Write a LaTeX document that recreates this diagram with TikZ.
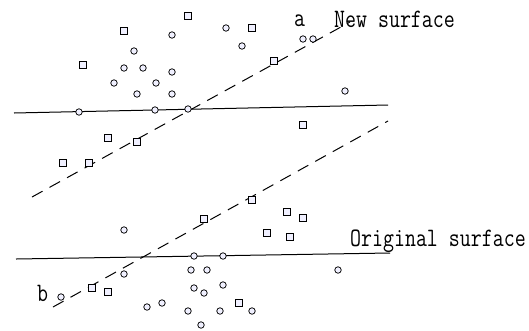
\documentclass[tikz,border=0pt]{standalone}
\usepackage{fontspec}
\setmainfont{Liberation Serif}
\tikzset{
  pt/.style={circle,draw,fill=blue!6,inner sep=0pt,minimum size=6.5pt,line width=0.75pt},
  sq/.style={rectangle,draw,fill=blue!6,inner sep=0pt,minimum size=7pt,line width=0.75pt},
  lbl/.style={font=\ttfamily\fontsize{21.3}{21.3}\selectfont,inner sep=0pt,anchor=west,yscale=1.25},
  surf/.style={line width=1pt},
  moved/.style={line width=1pt,dash pattern=on 12pt off 8pt}
}
\begin{document}
\begin{tikzpicture}[x=1pt,y=-1pt]
\useasboundingbox (0,0) rectangle (529,330);
% surfaces
\coordinate (u1) at (14,113); \coordinate (u2) at (388,105);
\coordinate (l1) at (16,259); \coordinate (l2) at (390,253);
\coordinate (a1) at (32,197); \coordinate (a2) at (350,22);
\coordinate (b1) at (53,307); \coordinate (b2) at (388,121);
\draw[surf] (u1) -- (u2);
\draw[surf] (l1) -- (l2);
\draw[moved] (a1) -- (a2);
\draw[moved] (b1) -- (b2);
% samples
\foreach \x/\y [count=\k] in {172/35,226/28,242/46,134/51,124/68,143/68,172/72,114/83,156/83,137/94,172/94,
  79/112,155/110,188/109,303/39,313/39,345/91,124/230,194/256,223/256,124/274,191/270,207/270,194/288,
  204/293,223/285,61/297,147/307,162/303,188/311,220/311,252/311,201/325,338/270}
  \node[pt] (c\k) at (\x,\y) {};
\foreach \x/\y [count=\k] in {124/31,188/16,83/65,108/138,137/142,63/163,89/163,252/28,274/61,303/125,
  204/219,252/200,267/233,287/212,303/218,290/237,92/288,108/292,239/303}
  \node[sq] (s\k) at (\x,\y) {};
% labels
\node[lbl] (la) at (294,21) {a};
\node[lbl] (ln) at (334,19) {New surface};
\node[lbl] (lo) at (350,241) {Original surface};
\node[lbl] (lb) at (37,293) {b};
\end{tikzpicture}
\end{document}
